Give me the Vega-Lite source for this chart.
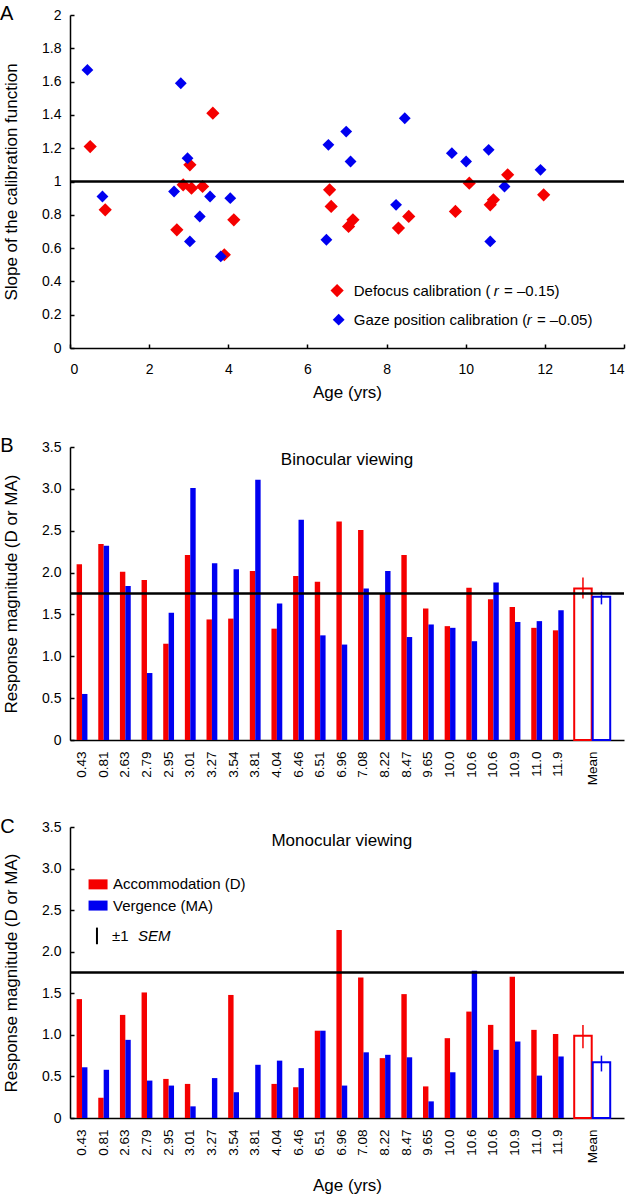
{
  "$schema": "https://vega.github.io/schema/vega-lite/v6.json",
  "padding": {"left": 0, "top": 4, "right": 0, "bottom": 0},
  "config": {
    "font": "Liberation Sans",
    "view": {"stroke": null},
    "axis": {"domainColor": "black", "domainWidth": 1.5, "tickColor": "black", "tickWidth": 1.5, "labelColor": "black", "titleColor": "black", "labelFontSize": 14, "titleFontSize": 17, "titleFontWeight": "normal", "grid": false, "labelOverlap": false},
    "text": {"color": "black", "fontWeight": "normal"}
  },
  "datasets": {
    "one": [{}],
    "scatter": [
      {"age": 0.51, "slope": 1.21, "series": "Defocus"},
      {"age": 0.89, "slope": 0.83, "series": "Defocus"},
      {"age": 2.70, "slope": 0.71, "series": "Defocus"},
      {"age": 2.86, "slope": 0.98, "series": "Defocus"},
      {"age": 3.03, "slope": 1.10, "series": "Defocus"},
      {"age": 3.07, "slope": 0.96, "series": "Defocus"},
      {"age": 3.35, "slope": 0.97, "series": "Defocus"},
      {"age": 3.61, "slope": 1.41, "series": "Defocus"},
      {"age": 3.90, "slope": 0.56, "series": "Defocus"},
      {"age": 4.14, "slope": 0.77, "series": "Defocus"},
      {"age": 6.56, "slope": 0.95, "series": "Defocus"},
      {"age": 6.60, "slope": 0.85, "series": "Defocus"},
      {"age": 7.04, "slope": 0.73, "series": "Defocus"},
      {"age": 7.15, "slope": 0.77, "series": "Defocus"},
      {"age": 8.30, "slope": 0.72, "series": "Defocus"},
      {"age": 8.56, "slope": 0.79, "series": "Defocus"},
      {"age": 9.74, "slope": 0.82, "series": "Defocus"},
      {"age": 10.09, "slope": 0.99, "series": "Defocus"},
      {"age": 10.62, "slope": 0.86, "series": "Defocus"},
      {"age": 10.70, "slope": 0.89, "series": "Defocus"},
      {"age": 11.06, "slope": 1.04, "series": "Defocus"},
      {"age": 11.97, "slope": 0.92, "series": "Defocus"},
      {"age": 0.44, "slope": 1.67, "series": "Gaze"},
      {"age": 0.82, "slope": 0.91, "series": "Gaze"},
      {"age": 2.63, "slope": 0.94, "series": "Gaze"},
      {"age": 2.80, "slope": 1.59, "series": "Gaze"},
      {"age": 2.97, "slope": 1.14, "series": "Gaze"},
      {"age": 3.03, "slope": 0.64, "series": "Gaze"},
      {"age": 3.28, "slope": 0.79, "series": "Gaze"},
      {"age": 3.54, "slope": 0.91, "series": "Gaze"},
      {"age": 3.81, "slope": 0.55, "series": "Gaze"},
      {"age": 4.05, "slope": 0.90, "series": "Gaze"},
      {"age": 6.48, "slope": 0.65, "series": "Gaze"},
      {"age": 6.53, "slope": 1.22, "series": "Gaze"},
      {"age": 6.98, "slope": 1.30, "series": "Gaze"},
      {"age": 7.09, "slope": 1.12, "series": "Gaze"},
      {"age": 8.24, "slope": 0.86, "series": "Gaze"},
      {"age": 8.46, "slope": 1.38, "series": "Gaze"},
      {"age": 9.65, "slope": 1.17, "series": "Gaze"},
      {"age": 10.01, "slope": 1.12, "series": "Gaze"},
      {"age": 10.58, "slope": 1.19, "series": "Gaze"},
      {"age": 10.62, "slope": 0.64, "series": "Gaze"},
      {"age": 10.98, "slope": 0.97, "series": "Gaze"},
      {"age": 11.89, "slope": 1.07, "series": "Gaze"}
    ],
    "binoc": [
      {"cat": "0.43", "Accommodation": 2.10, "Vergence": 0.55},
      {"cat": "0.81", "Accommodation": 2.34, "Vergence": 2.32},
      {"cat": "2.63", "Accommodation": 2.01, "Vergence": 1.84},
      {"cat": "2.79", "Accommodation": 1.91, "Vergence": 0.80},
      {"cat": "2.95", "Accommodation": 1.15, "Vergence": 1.52},
      {"cat": "3.01", "Accommodation": 2.21, "Vergence": 3.01},
      {"cat": "3.27", "Accommodation": 1.44, "Vergence": 2.11},
      {"cat": "3.54", "Accommodation": 1.45, "Vergence": 2.04},
      {"cat": "3.81", "Accommodation": 2.02, "Vergence": 3.11},
      {"cat": "4.04", "Accommodation": 1.33, "Vergence": 1.63},
      {"cat": "6.46", "Accommodation": 1.96, "Vergence": 2.63},
      {"cat": "6.51", "Accommodation": 1.89, "Vergence": 1.25},
      {"cat": "6.96", "Accommodation": 2.61, "Vergence": 1.14},
      {"cat": "7.08", "Accommodation": 2.51, "Vergence": 1.81},
      {"cat": "8.22", "Accommodation": 1.75, "Vergence": 2.02},
      {"cat": "8.47", "Accommodation": 2.21, "Vergence": 1.23},
      {"cat": "9.65", "Accommodation": 1.57, "Vergence": 1.38},
      {"cat": "10.0", "Accommodation": 1.36, "Vergence": 1.34},
      {"cat": "10.6_1", "Accommodation": 1.82, "Vergence": 1.18},
      {"cat": "10.6_2", "Accommodation": 1.68, "Vergence": 1.88},
      {"cat": "10.9", "Accommodation": 1.59, "Vergence": 1.41},
      {"cat": "11.0", "Accommodation": 1.34, "Vergence": 1.42},
      {"cat": "11.9", "Accommodation": 1.31, "Vergence": 1.55},
      {"cat": "Mean", "Accommodation": 1.81, "Vergence": 1.71, "acc_lo": 1.69, "acc_hi": 1.94, "verg_lo": 1.62, "verg_hi": 1.77}
    ],
    "monoc": [
      {"cat": "0.43", "Accommodation": 1.43, "Vergence": 0.61},
      {"cat": "0.81", "Accommodation": 0.245, "Vergence": 0.58},
      {"cat": "2.63", "Accommodation": 1.24, "Vergence": 0.94},
      {"cat": "2.79", "Accommodation": 1.51, "Vergence": 0.45},
      {"cat": "2.95", "Accommodation": 0.47, "Vergence": 0.39},
      {"cat": "3.01", "Accommodation": 0.41, "Vergence": 0.14},
      {"cat": "3.27", "Accommodation": 0, "Vergence": 0.48},
      {"cat": "3.54", "Accommodation": 1.48, "Vergence": 0.31},
      {"cat": "3.81", "Accommodation": 0, "Vergence": 0.64},
      {"cat": "4.04", "Accommodation": 0.41, "Vergence": 0.69},
      {"cat": "6.46", "Accommodation": 0.37, "Vergence": 0.60},
      {"cat": "6.51", "Accommodation": 1.05, "Vergence": 1.05},
      {"cat": "6.96", "Accommodation": 2.26, "Vergence": 0.39},
      {"cat": "7.08", "Accommodation": 1.69, "Vergence": 0.79},
      {"cat": "8.22", "Accommodation": 0.72, "Vergence": 0.76},
      {"cat": "8.47", "Accommodation": 1.49, "Vergence": 0.73},
      {"cat": "9.65", "Accommodation": 0.38, "Vergence": 0.20},
      {"cat": "10.0", "Accommodation": 0.96, "Vergence": 0.55},
      {"cat": "10.6_1", "Accommodation": 1.28, "Vergence": 1.77},
      {"cat": "10.6_2", "Accommodation": 1.12, "Vergence": 0.82},
      {"cat": "10.9", "Accommodation": 1.70, "Vergence": 0.92},
      {"cat": "11.0", "Accommodation": 1.06, "Vergence": 0.51},
      {"cat": "11.9", "Accommodation": 1.01, "Vergence": 0.74},
      {"cat": "Mean", "Accommodation": 0.99, "Vergence": 0.67, "acc_lo": 0.84, "acc_hi": 1.12, "verg_lo": 0.56, "verg_hi": 0.75}
    ]
  },
  "vconcat": [
    {
      "width": 554,
      "height": 333,
      "layer": [
        {
          "data": {"name": "scatter"},
          "mark": {"type": "point", "shape": "diamond", "filled": true, "opacity": 1},
          "encoding": {
            "x": {"field": "age", "type": "quantitative", "scale": {"domain": [0, 14], "nice": false}, "axis": {"title": "Age (yrs)", "values": [0, 2, 4, 6, 8, 10, 12, 14], "tickSize": -4, "labelPadding": 18, "titlePadding": 8}},
            "y": {"field": "slope", "type": "quantitative", "scale": {"domain": [0, 2], "nice": false}, "axis": {"title": "Slope of the calibration function", "values": [0, 0.2, 0.4, 0.6, 0.8, 1, 1.2, 1.4, 1.6, 1.8, 2], "tickCount": 11, "labelOverlap": false, "format": "~g", "tickSize": -4, "labelPadding": 13, "titlePadding": 21}},
            "color": {"field": "series", "type": "nominal", "scale": {"domain": ["Defocus", "Gaze"], "range": ["#f50000", "#0000f0"]}, "legend": null},
            "size": {"field": "series", "type": "nominal", "scale": {"domain": ["Defocus", "Gaze"], "range": [175, 140]}, "legend": null}
          }
        },
        {
          "data": {"name": "one"},
          "mark": {"type": "rule", "color": "black", "strokeWidth": 2.5},
          "encoding": {"y": {"datum": 1}}
        },
        {
          "data": {"name": "one"},
          "mark": {"type": "text", "text": "A", "fontSize": 20, "align": "left", "baseline": "alphabetic", "dx": -70, "dy": 5},
          "encoding": {"x": {"datum": 0}, "y": {"datum": 2}}
        },
        {
          "data": {"name": "one"},
          "mark": {"type": "point", "shape": "diamond", "filled": true, "opacity": 1, "color": "#f50000", "size": 175},
          "encoding": {"x": {"datum": 6.75}, "y": {"datum": 0.345}}
        },
        {
          "data": {"name": "one"},
          "mark": {"type": "point", "shape": "diamond", "filled": true, "opacity": 1, "color": "#0000f0", "size": 140},
          "encoding": {"x": {"datum": 6.79}, "y": {"datum": 0.17}}
        },
        {
          "data": {"name": "one"},
          "mark": {"type": "text", "text": "Defocus calibration (", "align": "left", "baseline": "middle", "fontSize": 15},
          "encoding": {"x": {"datum": 7.17}, "y": {"datum": 0.345}}
        },
        {
          "data": {"name": "one"},
          "mark": {"type": "text", "text": "r", "align": "left", "baseline": "middle", "fontSize": 15, "fontStyle": "italic"},
          "encoding": {"x": {"datum": 10.71}, "y": {"datum": 0.345}}
        },
        {
          "data": {"name": "one"},
          "mark": {"type": "text", "text": "= –0.15)", "align": "left", "baseline": "middle", "fontSize": 15},
          "encoding": {"x": {"datum": 10.97}, "y": {"datum": 0.345}}
        },
        {
          "data": {"name": "one"},
          "mark": {"type": "text", "text": "Gaze position calibration (", "align": "left", "baseline": "middle", "fontSize": 15},
          "encoding": {"x": {"datum": 7.17}, "y": {"datum": 0.17}}
        },
        {
          "data": {"name": "one"},
          "mark": {"type": "text", "text": "r", "align": "left", "baseline": "middle", "fontSize": 15, "fontStyle": "italic"},
          "encoding": {"x": {"datum": 11.54}, "y": {"datum": 0.17}}
        },
        {
          "data": {"name": "one"},
          "mark": {"type": "text", "text": "= –0.05)", "align": "left", "baseline": "middle", "fontSize": 15},
          "encoding": {"x": {"datum": 11.8}, "y": {"datum": 0.17}}
        }
      ]
    },
    {
      "spacing": 32,
      "vconcat": [
        {
          "width": 554,
          "height": 293,
          "layer": [
            {
              "data": {"name": "binoc"},
              "transform": [{"filter": "datum.cat != 'Mean'"}, {"fold": ["Accommodation", "Vergence"], "as": ["measure", "value"]}],
              "mark": {"type": "bar"},
              "encoding": {
                "x": {"field": "cat", "type": "nominal", "scale": {"domain": ["0.43", "0.81", "2.63", "2.79", "2.95", "3.01", "3.27", "3.54", "3.81", "4.04", "6.46", "6.51", "6.96", "7.08", "8.22", "8.47", "9.65", "10.0", "10.6_1", "10.6_2", "10.9", "11.0", "11.9", "Mean"], "paddingInner": 0, "paddingOuter": 0.795, "align": 0.035}, "axis": {"title": null, "labelAngle": -90, "ticks": false, "labelPadding": 11, "labelFontSize": 13.5, "labelExpr": "split(datum.label, '_')[0]", "labelOffset": {"condition": {"test": "datum.value == 'Mean'", "value": 13}, "value": 0}}},
                "xOffset": {"field": "measure", "type": "nominal", "scale": {"domain": ["Accommodation", "Vergence"], "paddingInner": 0, "paddingOuter": 1.4}},
                "y": {"field": "value", "type": "quantitative", "scale": {"domain": [0, 3.5], "nice": false}, "axis": {"title": "Response magnitude (D or MA)", "values": [0, 0.5, 1, 1.5, 2, 2.5, 3, 3.5], "labelExpr": "datum.value == 0 ? '0' : format(datum.value, '.1f')", "tickSize": -4, "labelPadding": 13, "titlePadding": 21}},
                "color": {"field": "measure", "type": "nominal", "scale": {"domain": ["Accommodation", "Vergence"], "range": ["#f50000", "#0000f0"]}, "legend": null}
              }
            },
            {
              "data": {"name": "binoc"},
              "transform": [{"filter": "datum.cat == 'Mean'"}],
              "mark": {"type": "bar", "fill": "white", "stroke": "#f50000", "strokeWidth": 2, "width": 17.5, "xOffset": 3},
              "encoding": {"x": {"field": "cat", "type": "nominal"}, "y": {"field": "Accommodation", "type": "quantitative"}}
            },
            {
              "data": {"name": "binoc"},
              "transform": [{"filter": "datum.cat == 'Mean'"}],
              "mark": {"type": "bar", "fill": "white", "stroke": "#0000f0", "strokeWidth": 2, "width": 17.5, "xOffset": 21.5},
              "encoding": {"x": {"field": "cat", "type": "nominal"}, "y": {"field": "Vergence", "type": "quantitative"}}
            },
            {
              "data": {"name": "binoc"},
              "transform": [{"filter": "datum.cat == 'Mean'"}],
              "mark": {"type": "rule", "color": "#f50000", "strokeWidth": 1.5, "xOffset": 3},
              "encoding": {"x": {"field": "cat", "type": "nominal"}, "y": {"field": "acc_lo", "type": "quantitative"}, "y2": {"field": "acc_hi"}}
            },
            {
              "data": {"name": "binoc"},
              "transform": [{"filter": "datum.cat == 'Mean'"}],
              "mark": {"type": "rule", "color": "#0000f0", "strokeWidth": 1.5, "xOffset": 21.5},
              "encoding": {"x": {"field": "cat", "type": "nominal"}, "y": {"field": "verg_lo", "type": "quantitative"}, "y2": {"field": "verg_hi"}}
            },
            {
              "data": {"name": "one"},
              "mark": {"type": "rule", "color": "black", "strokeWidth": 2.5},
              "encoding": {"y": {"datum": 1.75}}
            },
            {
              "data": {"name": "one"},
              "mark": {"type": "text", "text": "Binocular viewing", "fontSize": 17, "align": "center", "baseline": "middle"},
              "encoding": {"x": {"datum": "6.96", "bandPosition": 0.74}, "y": {"datum": 3.345}}
            },
            {
              "data": {"name": "one"},
              "mark": {"type": "text", "text": "B", "fontSize": 20, "align": "left", "baseline": "alphabetic", "dx": -71, "dy": 5},
              "encoding": {"x": {"datum": "0.43", "bandPosition": 0}, "y": {"datum": 3.5}}
            }
          ]
        },
        {
          "width": 554,
          "height": 291,
          "layer": [
            {
              "data": {"name": "monoc"},
              "transform": [{"filter": "datum.cat != 'Mean'"}, {"fold": ["Accommodation", "Vergence"], "as": ["measure", "value"]}],
              "mark": {"type": "bar"},
              "encoding": {
                "x": {"field": "cat", "type": "nominal", "scale": {"domain": ["0.43", "0.81", "2.63", "2.79", "2.95", "3.01", "3.27", "3.54", "3.81", "4.04", "6.46", "6.51", "6.96", "7.08", "8.22", "8.47", "9.65", "10.0", "10.6_1", "10.6_2", "10.9", "11.0", "11.9", "Mean"], "paddingInner": 0, "paddingOuter": 0.795, "align": 0.035}, "axis": {"title": "Age (yrs)", "titlePadding": 15, "labelAngle": -90, "ticks": false, "labelPadding": 11, "labelFontSize": 13.5, "labelExpr": "split(datum.label, '_')[0]", "labelOffset": {"condition": {"test": "datum.value == 'Mean'", "value": 13}, "value": 0}}},
                "xOffset": {"field": "measure", "type": "nominal", "scale": {"domain": ["Accommodation", "Vergence"], "paddingInner": 0, "paddingOuter": 1.4}},
                "y": {"field": "value", "type": "quantitative", "scale": {"domain": [0, 3.5], "nice": false}, "axis": {"title": "Response magnitude (D or MA)", "values": [0, 0.5, 1, 1.5, 2, 2.5, 3, 3.5], "labelExpr": "datum.value == 0 ? '0' : format(datum.value, '.1f')", "tickSize": -4, "labelPadding": 13, "titlePadding": 21}},
                "color": {"field": "measure", "type": "nominal", "scale": {"domain": ["Accommodation", "Vergence"], "range": ["#f50000", "#0000f0"]}, "legend": null}
              }
            },
            {
              "data": {"name": "monoc"},
              "transform": [{"filter": "datum.cat == 'Mean'"}],
              "mark": {"type": "bar", "fill": "white", "stroke": "#f50000", "strokeWidth": 2, "width": 17.5, "xOffset": 3},
              "encoding": {"x": {"field": "cat", "type": "nominal"}, "y": {"field": "Accommodation", "type": "quantitative"}}
            },
            {
              "data": {"name": "monoc"},
              "transform": [{"filter": "datum.cat == 'Mean'"}],
              "mark": {"type": "bar", "fill": "white", "stroke": "#0000f0", "strokeWidth": 2, "width": 17.5, "xOffset": 21.5},
              "encoding": {"x": {"field": "cat", "type": "nominal"}, "y": {"field": "Vergence", "type": "quantitative"}}
            },
            {
              "data": {"name": "monoc"},
              "transform": [{"filter": "datum.cat == 'Mean'"}],
              "mark": {"type": "rule", "color": "#f50000", "strokeWidth": 1.5, "xOffset": 3},
              "encoding": {"x": {"field": "cat", "type": "nominal"}, "y": {"field": "acc_lo", "type": "quantitative"}, "y2": {"field": "acc_hi"}}
            },
            {
              "data": {"name": "monoc"},
              "transform": [{"filter": "datum.cat == 'Mean'"}],
              "mark": {"type": "rule", "color": "#0000f0", "strokeWidth": 1.5, "xOffset": 21.5},
              "encoding": {"x": {"field": "cat", "type": "nominal"}, "y": {"field": "verg_lo", "type": "quantitative"}, "y2": {"field": "verg_hi"}}
            },
            {
              "data": {"name": "one"},
              "mark": {"type": "rule", "color": "black", "strokeWidth": 2.5},
              "encoding": {"y": {"datum": 1.75}}
            },
            {
              "data": {"name": "one"},
              "mark": {"type": "text", "text": "Monocular viewing", "fontSize": 17, "align": "center", "baseline": "middle"},
              "encoding": {"x": {"datum": "6.96", "bandPosition": 0.5}, "y": {"datum": 3.335}}
            },
            {
              "data": {"name": "one"},
              "mark": {"type": "text", "text": "C", "fontSize": 20, "align": "left", "baseline": "alphabetic", "dx": -71, "dy": 6},
              "encoding": {"x": {"datum": "0.43", "bandPosition": 0}, "y": {"datum": 3.5}}
            },
            {
              "data": {"name": "one"},
              "mark": {"type": "point", "shape": "M-1,-0.526H1V0.526H-1Z", "filled": true, "opacity": 1, "color": "#f50000", "size": 361},
              "encoding": {"x": {"datum": "0.81", "bandPosition": 0.24}, "y": {"datum": 2.81}}
            },
            {
              "data": {"name": "one"},
              "mark": {"type": "point", "shape": "M-1,-0.526H1V0.526H-1Z", "filled": true, "opacity": 1, "color": "#0000f0", "size": 361},
              "encoding": {"x": {"datum": "0.81", "bandPosition": 0.24}, "y": {"datum": 2.555}}
            },
            {
              "data": {"name": "one"},
              "mark": {"type": "rule", "color": "black", "strokeWidth": 2},
              "encoding": {"x": {"datum": "0.81", "bandPosition": 0.19}, "y": {"datum": 2.29}, "y2": {"datum": 2.09}}
            },
            {
              "data": {"name": "one"},
              "mark": {"type": "text", "text": "Accommodation (D)", "align": "left", "baseline": "middle", "fontSize": 15},
              "encoding": {"x": {"datum": "0.81", "bandPosition": 0.93}, "y": {"datum": 2.81}}
            },
            {
              "data": {"name": "one"},
              "mark": {"type": "text", "text": "Vergence (MA)", "align": "left", "baseline": "middle", "fontSize": 15},
              "encoding": {"x": {"datum": "0.81", "bandPosition": 0.93}, "y": {"datum": 2.555}}
            },
            {
              "data": {"name": "one"},
              "mark": {"type": "text", "text": "±1", "align": "left", "baseline": "middle", "fontSize": 15},
              "encoding": {"x": {"datum": "0.81", "bandPosition": 0.88}, "y": {"datum": 2.19}}
            },
            {
              "data": {"name": "one"},
              "mark": {"type": "text", "text": "SEM", "align": "left", "baseline": "middle", "fontSize": 15, "fontStyle": "italic"},
              "encoding": {"x": {"datum": "2.79", "bandPosition": 0.09}, "y": {"datum": 2.19}}
            }
          ]
        }
      ]
    }
  ],
  "spacing": 36
}
